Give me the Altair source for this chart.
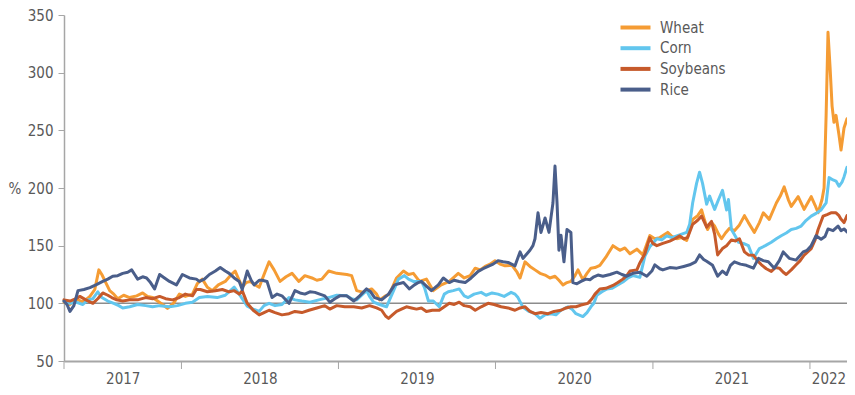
import math
import altair as alt
import pandas as pd

# ---- data (time as decimal year, value in %) ----
wheat_t = [2017.252, 2017.290, 2017.328, 2017.372, 2017.417, 2017.448, 2017.474, 2017.493, 2017.518, 2017.543,
           2017.569, 2017.594, 2017.632, 2017.670, 2017.715, 2017.753, 2017.784, 2017.816, 2017.848, 2017.880,
           2017.911, 2017.949, 2017.987, 2018.025, 2018.070, 2018.101, 2018.133, 2018.165, 2018.197, 2018.235,
           2018.279, 2018.311, 2018.342, 2018.368, 2018.387, 2018.412, 2018.438, 2018.469, 2018.495, 2018.526,
           2018.558, 2018.590, 2018.628, 2018.666, 2018.704, 2018.748, 2018.786, 2018.831, 2018.862, 2018.894,
           2018.938, 2018.989, 2019.053, 2019.084, 2019.116, 2019.160, 2019.211, 2019.243, 2019.262, 2019.294,
           2019.325, 2019.370, 2019.414, 2019.446, 2019.477, 2019.516, 2019.560, 2019.604, 2019.655, 2019.706,
           2019.763, 2019.801, 2019.839, 2019.871, 2019.902, 2019.934, 2019.966, 2019.997, 2020.029, 2020.061,
           2020.105, 2020.137, 2020.156, 2020.188, 2020.219, 2020.251, 2020.283, 2020.315, 2020.346, 2020.378,
           2020.403, 2020.429, 2020.454, 2020.479, 2020.505, 2020.524, 2020.555, 2020.581, 2020.606, 2020.632,
           2020.663, 2020.701, 2020.746, 2020.790, 2020.822, 2020.854, 2020.898, 2020.936, 2020.980, 2021.012,
           2021.044, 2021.094, 2021.120, 2021.152, 2021.183, 2021.215, 2021.253, 2021.285, 2021.310, 2021.329,
           2021.348, 2021.373, 2021.393, 2021.418, 2021.437, 2021.462, 2021.488, 2021.519, 2021.551, 2021.583,
           2021.608, 2021.646, 2021.678, 2021.703, 2021.741, 2021.786, 2021.811, 2021.836, 2021.862, 2021.881,
           2021.925, 2021.963, 2022.008, 2022.033, 2022.052, 2022.077, 2022.090, 2022.103, 2022.115, 2022.128,
           2022.141, 2022.153, 2022.166, 2022.185, 2022.198, 2022.217, 2022.236]
wheat_v = [101, 99, 104, 101, 106, 112, 129, 125, 118, 111,
           108, 104, 107, 105, 106.5, 109, 106, 105, 102, 99,
           95.6, 100, 108, 106, 108, 117, 121, 114, 111, 116,
           119, 124, 128, 120, 114, 118, 119, 116, 114, 125,
           136, 129, 119, 123, 126, 119, 124, 122, 120, 121,
           128, 126, 125, 124, 111, 109.5, 112.5, 108, 103, 106,
           108, 122, 128, 125, 126, 119, 121, 111, 116, 119,
           126, 122, 124, 130.5, 129, 132, 134, 137, 134, 132.5,
           133, 127, 122, 136, 132, 129, 126, 124.5, 122, 123.5,
           120, 116, 118, 119, 124, 129, 120.5, 126, 130.5, 131,
           133, 140, 150, 146, 148, 143, 147, 142, 158.7, 156,
           157, 161.5, 158, 156, 157, 154.5, 172.8, 176, 181, 172,
           164, 170, 167, 160, 156, 161, 165, 163, 168, 176,
           170, 161.5, 170, 178.5, 172.8, 187, 193, 201, 190, 184,
           192.5, 181.5, 192.5, 185, 178.5, 190, 200, 263, 335, 305,
           271, 257, 263, 246, 233, 252, 260]

corn_t = [2017.252, 2017.290, 2017.328, 2017.372, 2017.404, 2017.436, 2017.467, 2017.493, 2017.531, 2017.569,
          2017.601, 2017.626, 2017.670, 2017.721, 2017.772, 2017.816, 2017.861, 2017.924, 2017.975, 2018.025,
          2018.070, 2018.114, 2018.165, 2018.228, 2018.279, 2018.336, 2018.368, 2018.419, 2018.457, 2018.495,
          2018.526, 2018.558, 2018.596, 2018.640, 2018.685, 2018.723, 2018.767, 2018.818, 2018.875, 2018.938,
          2018.989, 2019.053, 2019.084, 2019.116, 2019.148, 2019.179, 2019.198, 2019.224, 2019.262, 2019.306,
          2019.351, 2019.382, 2019.420, 2019.446, 2019.477, 2019.528, 2019.547, 2019.573, 2019.604, 2019.642,
          2019.674, 2019.699, 2019.731, 2019.769, 2019.801, 2019.826, 2019.864, 2019.909, 2019.940, 2019.978,
          2020.016, 2020.055, 2020.099, 2020.124, 2020.143, 2020.175, 2020.213, 2020.251, 2020.283, 2020.315,
          2020.353, 2020.384, 2020.416, 2020.460, 2020.486, 2020.511, 2020.555, 2020.581, 2020.606, 2020.625,
          2020.644, 2020.676, 2020.708, 2020.739, 2020.771, 2020.809, 2020.841, 2020.873, 2020.917, 2020.949,
          2020.980, 2021.025, 2021.056, 2021.088, 2021.120, 2021.152, 2021.183, 2021.215, 2021.234, 2021.253,
          2021.278, 2021.297, 2021.316, 2021.342, 2021.361, 2021.380, 2021.393, 2021.418, 2021.443, 2021.469,
          2021.481, 2021.500, 2021.526, 2021.545, 2021.576, 2021.608, 2021.640, 2021.678, 2021.716, 2021.754,
          2021.786, 2021.817, 2021.849, 2021.881, 2021.912, 2021.944, 2021.976, 2022.008, 2022.039, 2022.071,
          2022.103, 2022.122, 2022.147, 2022.166, 2022.185, 2022.204, 2022.217, 2022.236]
corn_v = [102, 100, 101, 99, 103, 104, 110, 105, 102, 100,
          98, 96, 97, 99, 98, 97, 98, 97, 98, 100,
          101, 105, 106, 105, 107, 114, 108, 97.5, 95, 93,
          98, 100, 98, 99, 105, 103, 102, 101, 103, 105,
          107, 106.5, 104, 103, 107, 111, 106, 101, 99, 97,
          111, 121, 124, 121, 119, 119, 114, 102, 102, 97,
          108, 110, 111, 112.5, 106.5, 105, 108, 109.5, 107, 109,
          108, 106, 109.5, 108, 105, 96.5, 93, 91, 87, 90,
          91, 90, 94, 97, 95, 91, 88.5, 92, 97, 100,
          107, 110, 112.5, 113, 115.5, 118.5, 122, 124, 122.5, 141,
          149, 156, 155, 158.5, 157, 158.5, 160, 161.5, 168.5, 187,
          204, 213.7, 204, 186, 193, 186, 181.5, 190, 198, 181,
          190, 164, 158, 153, 152, 150, 139, 147.5, 150, 153,
          156, 158.6, 161, 164, 165, 167, 172, 175.6, 178, 181,
          187, 209, 207, 206, 201.5, 205, 209.6, 218]

soy_t = [2017.252, 2017.290, 2017.328, 2017.353, 2017.391, 2017.436, 2017.467, 2017.499, 2017.531, 2017.556,
         2017.588, 2017.626, 2017.670, 2017.721, 2017.772, 2017.816, 2017.861, 2017.899, 2017.943, 2017.987,
         2018.025, 2018.070, 2018.095, 2018.120, 2018.165, 2018.216, 2018.260, 2018.304, 2018.336, 2018.368,
         2018.387, 2018.419, 2018.457, 2018.495, 2018.526, 2018.558, 2018.596, 2018.640, 2018.685, 2018.723,
         2018.767, 2018.812, 2018.862, 2018.913, 2018.945, 2018.989, 2019.040, 2019.097, 2019.148, 2019.198,
         2019.243, 2019.275, 2019.300, 2019.319, 2019.344, 2019.370, 2019.401, 2019.433, 2019.465, 2019.497,
         2019.528, 2019.560, 2019.598, 2019.642, 2019.674, 2019.706, 2019.737, 2019.769, 2019.801, 2019.839,
         2019.871, 2019.909, 2019.953, 2019.991, 2020.036, 2020.080, 2020.124, 2020.156, 2020.188, 2020.219,
         2020.251, 2020.289, 2020.334, 2020.372, 2020.416, 2020.448, 2020.479, 2020.511, 2020.543, 2020.587,
         2020.613, 2020.632, 2020.663, 2020.701, 2020.746, 2020.777, 2020.809, 2020.834, 2020.854, 2020.898,
         2020.917, 2020.949, 2020.980, 2020.999, 2021.025, 2021.063, 2021.107, 2021.139, 2021.171, 2021.196,
         2021.221, 2021.253, 2021.285, 2021.310, 2021.342, 2021.373, 2021.393, 2021.412, 2021.443, 2021.469,
         2021.500, 2021.526, 2021.551, 2021.583, 2021.608, 2021.640, 2021.665, 2021.691, 2021.722, 2021.754,
         2021.779, 2021.805, 2021.830, 2021.849, 2021.881, 2021.912, 2021.938, 2021.963, 2021.989, 2022.008,
         2022.033, 2022.052, 2022.071, 2022.084, 2022.109, 2022.134, 2022.166, 2022.185, 2022.198, 2022.217,
         2022.236]
soy_v = [103, 102, 104, 106, 103, 100, 104, 109, 107, 105,
         103, 102, 103, 103, 105, 104, 106, 104, 103, 105,
         108, 106.5, 112, 112, 110, 111, 112, 110, 111, 108,
         111, 100, 94, 90, 92, 94, 92, 90, 91, 93,
         92, 94, 96, 98, 95, 98, 97, 97, 96, 98,
         96, 94, 89, 87, 90, 93, 95, 97, 96, 95,
         96, 93, 94, 94, 97, 100, 99, 101, 98, 97,
         94, 97, 100, 99, 97, 96, 94, 96, 97, 93,
         91, 92, 91, 93, 94, 96, 97, 97, 98.5, 100,
         104, 108, 112.5, 113, 115.5, 118, 121, 124, 128, 129,
         135, 143, 157, 152, 150, 152, 154, 156, 158.5, 156,
         157, 168.5, 172, 175.6, 166, 171, 160, 142, 147.5, 150,
         155, 154, 156, 144.6, 142, 141.7, 137, 133.4, 130, 127.7,
         131, 130.5, 127, 125, 129, 133.4, 137, 141.7, 145, 147.5,
         155, 164, 171, 175.6, 177, 178.5, 178.5, 176, 173, 170,
         176]

rice_t = [2017.252, 2017.271, 2017.290, 2017.315, 2017.341, 2017.379, 2017.417, 2017.455, 2017.499, 2017.531,
          2017.562, 2017.594, 2017.626, 2017.658, 2017.683, 2017.702, 2017.721, 2017.753, 2017.778, 2017.803,
          2017.829, 2017.861, 2017.892, 2017.924, 2017.968, 2018.006, 2018.051, 2018.095, 2018.114, 2018.146,
          2018.178, 2018.216, 2018.247, 2018.279, 2018.304, 2018.336, 2018.368, 2018.387, 2018.419, 2018.444,
          2018.463, 2018.495, 2018.514, 2018.545, 2018.577, 2018.609, 2018.640, 2018.685, 2018.723, 2018.755,
          2018.786, 2018.818, 2018.850, 2018.881, 2018.913, 2018.945, 2018.977, 2019.008, 2019.053, 2019.097,
          2019.135, 2019.179, 2019.205, 2019.230, 2019.275, 2019.319, 2019.357, 2019.414, 2019.452, 2019.484,
          2019.509, 2019.528, 2019.560, 2019.592, 2019.636, 2019.668, 2019.706, 2019.737, 2019.769, 2019.807,
          2019.845, 2019.890, 2019.921, 2019.953, 2019.985, 2020.016, 2020.048, 2020.080, 2020.124, 2020.156,
          2020.175, 2020.200, 2020.219, 2020.238, 2020.251, 2020.270, 2020.289, 2020.315, 2020.340, 2020.353,
          2020.365, 2020.378, 2020.391, 2020.403, 2020.416, 2020.435, 2020.454, 2020.479, 2020.492, 2020.517,
          2020.543, 2020.574, 2020.600, 2020.625, 2020.651, 2020.682, 2020.727, 2020.771, 2020.803, 2020.834,
          2020.873, 2020.917, 2020.961, 2020.993, 2021.012, 2021.044, 2021.063, 2021.107, 2021.152, 2021.196,
          2021.234, 2021.272, 2021.297, 2021.323, 2021.342, 2021.380, 2021.412, 2021.443, 2021.469, 2021.494,
          2021.519, 2021.557, 2021.595, 2021.640, 2021.672, 2021.703, 2021.735, 2021.773, 2021.805, 2021.830,
          2021.868, 2021.912, 2021.957, 2021.982, 2022.008, 2022.039, 2022.071, 2022.096, 2022.115, 2022.147,
          2022.179, 2022.198, 2022.217, 2022.236]
rice_v = [102, 99, 93, 98, 111, 112, 113.6, 116, 119, 121,
          123.5, 124, 126, 127, 129, 125, 121, 123, 122, 118,
          112.5, 125, 122, 119, 116, 125, 122, 121, 119, 121,
          125, 128, 131, 128, 126, 122, 119, 112, 128, 120,
          116, 120, 120, 119, 105, 108, 106.5, 100, 111, 109,
          108, 110, 109.5, 108, 106.5, 101, 104, 106.5, 106.5, 102,
          106.5, 112.5, 110, 105, 103, 108, 116, 118, 112.5, 116,
          118, 119, 115, 111, 116, 122, 118, 120, 119, 118,
          122, 127.7, 130, 132, 134, 137, 136, 135.5, 132.5, 144.6,
          139, 143, 146, 150, 156, 178.5, 161.5, 174, 161.5, 175,
          187, 219, 187, 146, 159, 136, 164, 161.5, 118, 117,
          119, 121, 120.5, 123, 124.5, 123.5, 125, 127, 125, 123.5,
          126, 127, 123.5, 128, 133.4, 130, 129, 131, 130.5, 132,
          133.4, 136, 142, 138, 136.5, 133, 123.5, 128, 125, 133,
          136, 134, 133, 130.5, 139, 137, 136, 130.5, 137, 144.6,
          139, 137.5, 144.6, 146, 150, 158.6, 155.6, 158, 164.5, 163,
          167, 163, 164.5, 162]

series_names = ["Wheat", "Corn", "Soybeans", "Rice"]
series_colors = ["#F59C34", "#62C6EE", "#C65A2B", "#4A5E8A"]
y_ticks = [50, 100, 150, 200, 250, 300, 350]
year_labels = [2017, 2018, 2019, 2020, 2021, 2022]


def to_ts(t):
    y = int(math.floor(t))
    a = pd.Timestamp(year=y, month=1, day=1)
    b = pd.Timestamp(year=y + 1, month=1, day=1)
    return a + (b - a) * (t - y)


rows = []
for name, ts, vs in [("Wheat", wheat_t, wheat_v), ("Corn", corn_t, corn_v),
                     ("Soybeans", soy_t, soy_v), ("Rice", rice_t, rice_v)]:
    for t, v in zip(ts, vs):
        rows.append({"date": to_ts(t).strftime("%Y-%m-%dT%H:%M:%S"), "value": v, "series": name})
df = pd.DataFrame(rows)

start = min(to_ts(s[0]) for s in [wheat_t, corn_t, soy_t, rice_t])
end = max(to_ts(s[-1]) for s in [wheat_t, corn_t, soy_t, rice_t])


def dt(ts):
    return alt.DateTime(year=ts.year, month=ts.month, date=ts.day, hours=ts.hour, minutes=ts.minute)


# label positions: middle of the visible part of each year
mids = []
for yr in year_labels:
    lo = max(start, pd.Timestamp(year=yr, month=1, day=1))
    hi = min(end, pd.Timestamp(year=yr + 1, month=1, day=1))
    mids.append(dt(lo + (hi - lo) / 2))

# year separator ticks
seps = [start] + [pd.Timestamp(year=yr, month=1, day=1) for yr in year_labels[1:]]
sep_df = pd.DataFrame({"date": [s.strftime("%Y-%m-%dT%H:%M:%S") for s in seps]})

W, H = 783, 346
FONT = "Liberation Sans Narrow, DejaVu Sans Condensed, Roboto, sans-serif"
FS = 15
GREY = "#595959"
AXIS_GREY = "#a6a6a6"

x_scale = alt.Scale(nice=False)
y_scale = alt.Scale(domain=[50, 350], nice=False, zero=False)

x_axis = alt.Axis(values=mids, format="%Y", ticks=False, tickSize=0, grid=False, title=None,
                  labelPadding=10, labelFontSize=FS, labelColor=GREY, labelFont=FONT,
                  domainColor=AXIS_GREY, domainWidth=2, labelAngle=0)
y_axis = alt.Axis(values=y_ticks, grid=False, title="%", titleAngle=0, titleAlign="left",
                  titleBaseline="middle", titleX=-56, titleY=H / 2, titleFontWeight="normal",
                  titleFontSize=FS, titleColor=GREY, titleFont=FONT,
                  labelFontSize=FS, labelColor=GREY, labelFont=FONT, labelPadding=5,
                  tickSize=6, tickColor=AXIS_GREY, domainColor=AXIS_GREY, domainWidth=1.5)

color = alt.Color("series:N",
                  scale=alt.Scale(domain=series_names, range=series_colors),
                  legend=alt.Legend(orient="none", legendX=564, legendY=5, title=None,
                                    symbolType="M-3,0L3,0", symbolSize=100, symbolStrokeWidth=4,
                                    labelOffset=17, labelFontSize=FS, labelColor=GREY,
                                    labelFont=FONT, rowPadding=3.7, padding=0))

baseline = alt.Chart(pd.DataFrame({"v": [100]})).mark_rule(color="#8c8c8c", strokeWidth=1.5).encode(
    y=alt.Y("v:Q", scale=y_scale, axis=y_axis)
)

layers = [baseline]
for name in series_names:
    layers.append(
        alt.Chart(df).transform_filter(alt.datum.series == name).mark_line(
            strokeWidth=3, strokeJoin="round", strokeCap="round"
        ).encode(
            x=alt.X("date:T", scale=x_scale, axis=x_axis),
            y=alt.Y("value:Q", scale=y_scale, axis=y_axis),
            color=color,
        )
    )

sep_rules = alt.Chart(sep_df).mark_rule(color=AXIS_GREY, strokeWidth=1).encode(
    x=alt.X("date:T", scale=x_scale, axis=x_axis),
    y=alt.value(H),
    y2=alt.value(H + 8),
)
layers.append(sep_rules)

chart = alt.layer(*layers).properties(
    width=W, height=H,
    autosize=alt.AutoSizeParams(type="none"),
    padding={"left": 56, "top": 7, "right": 0, "bottom": 26},
    background="white",
).configure_view(stroke=None)

chart.save("out.html", embed_options={"renderer": "svg", "actions": False})
